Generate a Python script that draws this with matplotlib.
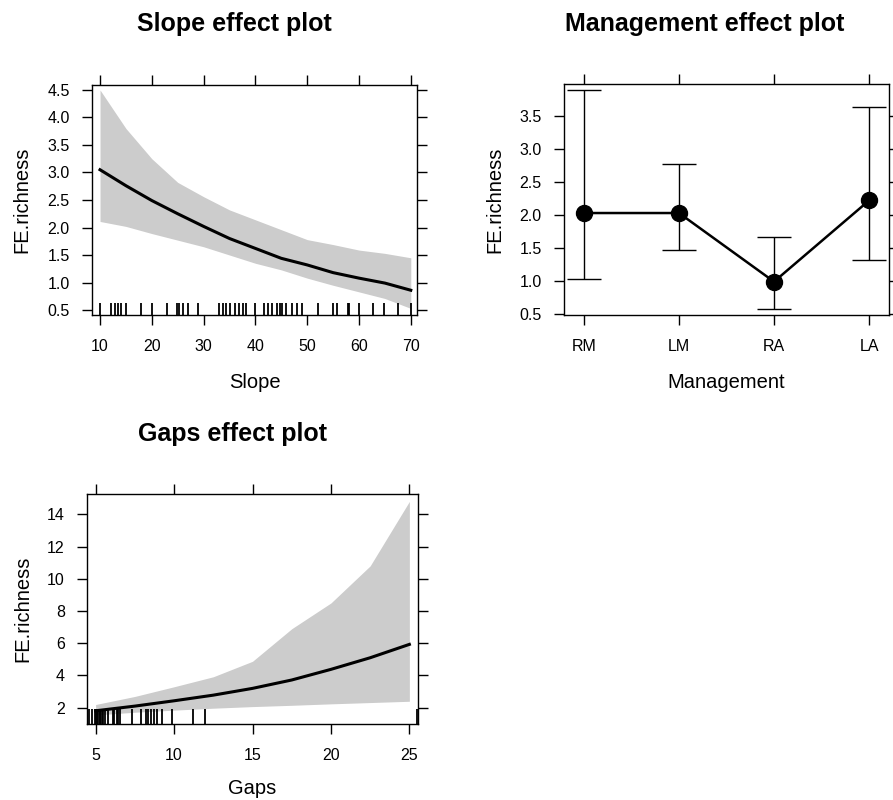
import numpy as np
import matplotlib
matplotlib.use("Agg")
import matplotlib.pyplot as plt

plt.rcParams["font.family"] = ["Liberation Sans", "DejaVu Sans"]

# ------------------------------------------------------------
# Effect estimates read from the fitted model
# ------------------------------------------------------------
slope_x = [10, 15, 20, 25, 30, 35, 40, 45, 50, 55, 60, 65, 70]
slope_fit = [3.05, 2.76, 2.49, 2.25, 2.02, 1.80, 1.62, 1.44, 1.32, 1.18, 1.08, 0.99, 0.86]
slope_upper = [4.50, 3.80, 3.25, 2.82, 2.56, 2.32, 2.14, 1.96, 1.78, 1.69, 1.59, 1.53, 1.45]
slope_lower = [2.11, 2.02, 1.89, 1.77, 1.65, 1.50, 1.35, 1.23, 1.08, 0.95, 0.83, 0.71, 0.53]
slope_rug = [10, 12.2, 12.8, 13.5, 14, 15, 18, 20, 23, 24.8, 25.3, 26.1, 26.9, 29,
             33, 33.8, 34.3, 35, 36, 36.9, 37.7, 38.1, 40, 41.7, 42.5, 43.3, 44.1,
             44.7, 45.2, 46, 47, 48, 49, 52, 55, 55.7, 57.8, 58.1, 60, 62.8, 64.8,
             67.5, 70]

management = ["RM", "LM", "RA", "LA"]
management_fit = [2.03, 2.03, 0.99, 2.22]
management_lower = [1.03, 1.47, 0.57, 1.32]
management_upper = [3.89, 2.77, 1.67, 3.63]

gaps_x = [5, 7.5, 10, 12.5, 15, 17.5, 20, 22.5, 25]
gaps_fit = [1.81, 2.10, 2.43, 2.78, 3.20, 3.72, 4.38, 5.10, 5.93]
gaps_upper = [2.20, 2.70, 3.30, 3.92, 4.88, 6.90, 8.50, 10.80, 14.80]
gaps_lower = [1.55, 1.72, 1.85, 1.97, 2.07, 2.15, 2.24, 2.32, 2.40]
gaps_rug = [4.6, 4.75, 4.95, 5.0, 5.1, 5.17, 5.25, 5.3, 5.38, 5.45, 5.59, 5.8,
            6.12, 6.2, 6.34, 6.45, 6.55, 7.34, 7.89, 8.19, 8.36, 8.51, 8.72,
            8.93, 9.25, 9.89, 11.2, 12.0, 25.5]

W, H = 893, 800
BAND = "#cccccc"
TICK_FS = 11.5
LABEL_FS = 14.5
TITLE_FS = 18


def panel(fig, left, top, right, bottom):
    """Axes placed from pixel edges (origin top-left)."""
    return fig.add_axes([left / W, 1 - bottom / H, (right - left) / W, (bottom - top) / H])


def lattice_style(ax, xticks, yticks, xticklabels=None):
    """Box with outward ticks on all four sides, labels left/bottom only."""
    ax.set_xticks(xticks)
    if xticklabels is not None:
        ax.set_xticklabels(xticklabels)
    ax.set_yticks(yticks)
    ax.tick_params(axis="both", which="both", direction="out", length=7.5, width=1.0,
                   top=True, right=True, labeltop=False, labelright=False,
                   labelsize=TICK_FS)
    ax.tick_params(axis="y", pad=8.5)
    ax.tick_params(axis="x", pad=9.5)
    for sp in ax.spines.values():
        sp.set_linewidth(1.0)


def draw_rug(ax, values, frac):
    ax.vlines(values, 0, frac, transform=ax.get_xaxis_transform(),
              color="black", lw=1.3, zorder=4)


fig = plt.figure(figsize=(W / 100, H / 100), dpi=100)

# --- Slope ---
ax1 = panel(fig, 92, 85, 417, 315)
ax1.fill_between(slope_x, slope_lower, slope_upper, color=BAND, lw=0, zorder=1)
ax1.plot(slope_x, slope_fit, color="black", lw=2.2, zorder=3)
draw_rug(ax1, slope_rug, 0.054)
ax1.set_xlim(8.45, 71.2)
ax1.set_ylim(0.41, 4.59)
lattice_style(ax1, [10, 20, 30, 40, 50, 60, 70], [0.5, 1.0, 1.5, 2.0, 2.5, 3.0, 3.5, 4.0, 4.5])
ax1.yaxis.set_major_formatter(matplotlib.ticker.FormatStrFormatter("%.1f"))
ax1.set_xlabel("Slope", fontsize=LABEL_FS)
ax1.set_ylabel("FE.richness", fontsize=LABEL_FS)
ax1.xaxis.set_label_coords(0.5, -0.252)
ax1.yaxis.set_label_coords(-0.185, 0.5)
fig.text(234 / W, 1 - 24 / H, "Slope effect plot", ha="center", va="center",
         fontsize=TITLE_FS, fontweight="bold")

# --- Management ---
ax2 = panel(fig, 564, 84, 889, 315)
pos = np.arange(1, len(management) + 1)
fit = np.array(management_fit)
yerr = [fit - np.array(management_lower), np.array(management_upper) - fit]
ax2.errorbar(pos, fit, yerr=yerr, fmt="none", ecolor="black", elinewidth=1.0,
             capsize=12, capthick=1.0, zorder=2)
ax2.plot(pos, fit, color="black", lw=1.8, marker="o", markersize=11.5, zorder=3)
ax2.set_xlim(0.79, 4.21)
ax2.set_ylim(0.485, 3.985)
lattice_style(ax2, pos, [0.5, 1.0, 1.5, 2.0, 2.5, 3.0, 3.5], management)
ax2.yaxis.set_major_formatter(matplotlib.ticker.FormatStrFormatter("%.1f"))
ax2.set_xlabel("Management", fontsize=LABEL_FS)
ax2.set_ylabel("FE.richness", fontsize=LABEL_FS)
ax2.xaxis.set_label_coords(0.5, -0.251)
ax2.yaxis.set_label_coords(-0.185, 0.5)
fig.text(705 / W, 1 - 24 / H, "Management effect plot", ha="center", va="center",
         fontsize=TITLE_FS, fontweight="bold")

# --- Gaps ---
ax3 = panel(fig, 87, 494, 418, 724)
ax3.fill_between(gaps_x, gaps_lower, gaps_upper, color=BAND, lw=0, zorder=1)
ax3.plot(gaps_x, gaps_fit, color="black", lw=2.2, zorder=3)
draw_rug(ax3, gaps_rug, 0.065)
ax3.set_xlim(4.45, 25.55)
ax3.set_ylim(0.99, 15.26)
lattice_style(ax3, [5, 10, 15, 20, 25], [2, 4, 6, 8, 10, 12, 14])
ax3.set_xlabel("Gaps", fontsize=LABEL_FS)
ax3.set_ylabel("FE.richness", fontsize=LABEL_FS)
ax3.xaxis.set_label_coords(0.5, -0.24)
ax3.yaxis.set_label_coords(-0.166, 0.5)
fig.text(233 / W, 1 - 434 / H, "Gaps effect plot", ha="center", va="center",
         fontsize=TITLE_FS, fontweight="bold")

fig.savefig("out.png", dpi=100)
